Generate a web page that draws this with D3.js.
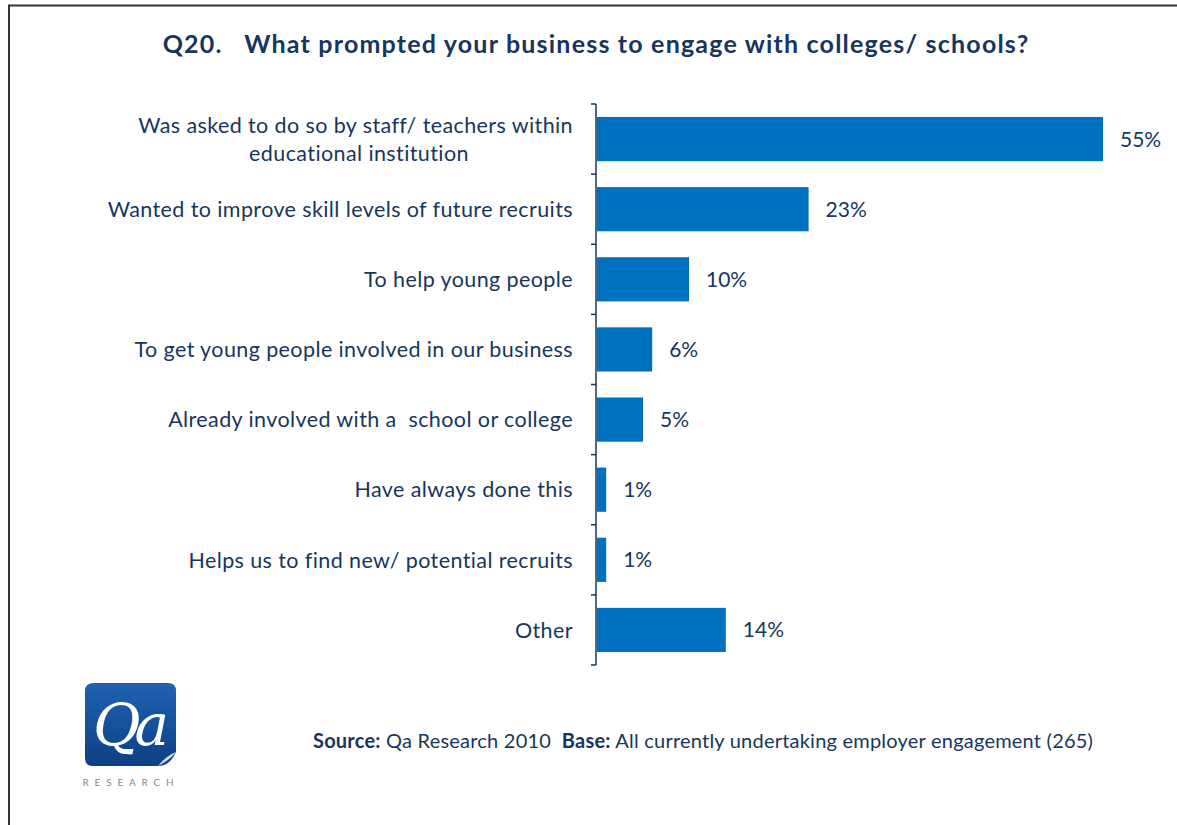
<!DOCTYPE html>
<html>
<head>
<meta charset="utf-8">
<script src="https://cdn.jsdelivr.net/npm/d3@7"></script>
<style>
  html, body { margin: 0; padding: 0; background: #fff; }
  svg { display: block; }
</style>
</head>
<body>
<svg id="chart" width="1177" height="825"></svg>
<script>
// Survey responses, Q20
const categories = [
  ["Was asked to do so by staff/ teachers within", "educational institution"],
  ["Wanted to improve skill levels of future recruits"],
  ["To help young people"],
  ["To get young people involved in our business"],
  ["Already involved with a  school or college"],
  ["Have always done this"],
  ["Helps us to find new/ potential recruits"],
  ["Other"]
];
const values = [55, 23, 10, 6, 5, 1, 1, 14];
const valueLabels = ["55%", "23%", "10%", "6%", "5%", "1%", "1%", "14%"];

const titleText = "Q20.   What prompted your business to engage with colleges/ schools?";

const navy = "#17365d";
const barColor = "#0070c0";
const font = "Lato, 'Open Sans', sans-serif";

const svg = d3.select("#chart");

// outer frame
svg.append("rect")
  .attr("x", 9).attr("y", 5.5)
  .attr("width", 1200).attr("height", 900)
  .attr("fill", "none").attr("stroke", "#333").attr("stroke-width", 2);

// title
svg.append("text")
  .attr("x", 596).attr("y", 53)
  .attr("text-anchor", "middle")
  .attr("font-family", font).attr("font-weight", 700)
  .attr("font-size", 25).attr("fill", navy)
  .attr("letter-spacing", 1.2)
  .attr("xml:space", "preserve")
  .style("white-space", "pre")
  .text(titleText);

const x0 = 596, yTop = 104, yBottom = 665;

const y = d3.scaleBand()
  .domain(d3.range(categories.length))
  .range([yTop, yBottom])
  .paddingInner(0.37).paddingOuter(0.185);

const x = d3.scaleLinear().domain([0, 60]).range([x0, x0 + 552]);

const g = svg.append("g");

// bars
g.selectAll("rect.bar").data(values).join("rect")
  .attr("class", "bar")
  .attr("x", x(0) + 1)
  .attr("y", (d, i) => y(i))
  .attr("width", d => x(d) - x(0))
  .attr("height", y.bandwidth())
  .attr("fill", barColor);

// value labels
g.selectAll("text.val").data(values).join("text")
  .attr("class", "val")
  .attr("x", d => x(d) + 18)
  .attr("y", (d, i) => y(i) + y.bandwidth() / 2)
  .attr("dy", "0.36em")
  .attr("font-family", font).attr("font-size", 21)
  .attr("fill", navy)
  .text((d, i) => valueLabels[i]);

// category labels
const step = y.step();
const centre = i => yTop + step * i + step / 2;
g.selectAll("text.cat").data(categories).join("text")
  .attr("class", "cat")
  .attr("font-family", font).attr("font-size", 21.5)
  .attr("letter-spacing", 0.4)
  .attr("fill", navy)
  .each(function(lines, i) {
    const t = d3.select(this);
    const lh = 28;
    const start = centre(i) - (lines.length - 1) * lh / 2;
    lines.forEach((ln, k) => {
      const second = k > 0;
      t.append("tspan")
        .attr("x", second ? 359 : 573)
        .attr("text-anchor", second ? "middle" : "end")
        .attr("y", start + k * lh)
        .attr("dy", "0.36em")
        .attr("xml:space", "preserve")
        .text(ln);
    });
  });

// category axis with ticks between bands
const axis = svg.append("g");
axis.append("line")
  .attr("x1", x0).attr("x2", x0).attr("y1", yTop).attr("y2", yBottom)
  .attr("stroke", navy).attr("stroke-width", 1.5);
axis.selectAll("line.tick").data(d3.range(categories.length + 1)).join("line")
  .attr("class", "tick")
  .attr("x1", x0 - 5).attr("x2", x0)
  .attr("y1", i => yTop + step * i).attr("y2", i => yTop + step * i)
  .attr("stroke", navy).attr("stroke-width", 1.5);

// source note
const src = svg.append("text")
  .attr("x", 313).attr("y", 748)
  .attr("font-family", font).attr("font-size", 20)
  .attr("letter-spacing", 0.22)
  .attr("fill", navy)
  .attr("xml:space", "preserve");
src.append("tspan").attr("font-weight", 700).text("Source:");
src.append("tspan").text(" Qa Research 2010  ");
src.append("tspan").attr("font-weight", 700).text("Base:");
src.append("tspan").text(" All currently undertaking employer engagement (265)");

// logo
const logo = svg.append("g");
const grad = svg.append("defs").append("linearGradient")
  .attr("id", "lg").attr("x1", 0).attr("y1", 0).attr("x2", 0).attr("y2", 1);
grad.append("stop").attr("offset", 0).attr("stop-color", "#1f63b0");
grad.append("stop").attr("offset", 1).attr("stop-color", "#0d3f86");
logo.append("path")
  .attr("d", "M94,683 H168 Q176,683 176,691 V752 Q170,766 158,766 H93 Q85,766 85,758 V691 Q85,683 94,683 Z")
  .attr("fill", "url(#lg)");
logo.append("path")
  .attr("d", "M158,766 Q166,756 176,752 Q170,760 158,766 Z")
  .attr("fill", "#d8dde6");
logo.append("text")
  .attr("x", 128).attr("y", 745)
  .attr("text-anchor", "middle")
  .attr("font-family", "'DejaVu Serif', 'Liberation Serif', serif")
  .attr("font-style", "italic")
  .attr("font-size", 58).attr("fill", "#fff")
  .attr("letter-spacing", -6)
  .text("Qa");
logo.append("text")
  .attr("x", 131).attr("y", 786)
  .attr("text-anchor", "middle")
  .attr("font-family", font).attr("font-size", 10)
  .attr("letter-spacing", 5.8).attr("fill", "#888")
  .text("RESEARCH");
</script>
</body>
</html>
